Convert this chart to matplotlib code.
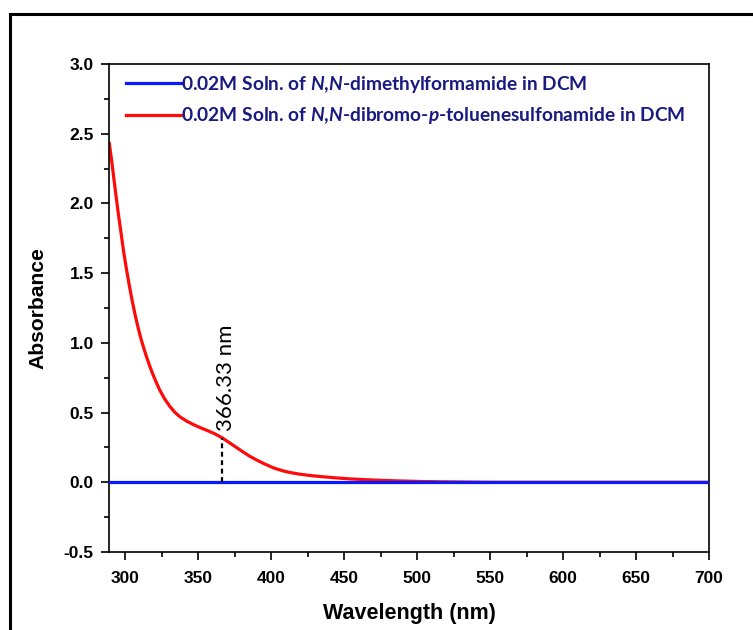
import matplotlib
matplotlib.use("Agg")
import matplotlib.pyplot as plt
from matplotlib.patches import Rectangle
from matplotlib.ticker import MultipleLocator, FormatStrFormatter

# data
wl_red = [289.2, 291, 293, 295, 297, 299, 301, 303, 305, 307, 309, 311, 313, 315, 317,
          319, 321, 323.8, 327, 330.6, 334, 337.5, 342, 346.6, 351, 355.7, 361, 366.33,
          371, 376, 380.5, 385.2, 391, 396.5, 402, 407.8, 413, 419.2, 425, 430, 441.7,
          453, 470, 487, 505, 521, 550, 600, 650, 700]
abs_red = [2.43, 2.29, 2.12, 1.955, 1.805, 1.655, 1.525, 1.405, 1.295, 1.195, 1.105,
           1.025, 0.955, 0.89, 0.83, 0.775, 0.725, 0.66, 0.60, 0.545, 0.503, 0.47, 0.44,
           0.415, 0.394, 0.374, 0.35, 0.32, 0.287, 0.252, 0.22, 0.188, 0.155, 0.127,
           0.102, 0.083, 0.070, 0.059, 0.051, 0.045, 0.034, 0.025, 0.016, 0.010, 0.005,
           0.003, 0.0, 0.0, 0.0, 0.0]
wl_blue = [289, 350, 400, 450, 500, 550, 600, 650, 700]
abs_blue = [0.0, 0.0, 0.0, 0.0, 0.0, 0.0, 0.0, 0.0, 0.0]

peak_wl = 366.33
peak_abs = 0.32

label_blue = r"0.02M Soln. of $\mathit{N{,}N}$-dimethylformamide in DCM"
label_red = r"0.02M Soln. of $\mathit{N{,}N}$-dibromo-$\mathit{p}$-toluenesulfonamide in DCM"

plt.rcParams["mathtext.fontset"] = "custom"
plt.rcParams["mathtext.it"] = "Lato:italic:bold"
plt.rcParams["mathtext.rm"] = "Lato:bold"

fig = plt.figure(figsize=(7.53, 6.3), dpi=100)
ax = fig.add_axes([0.1448, 0.1238, 0.7968, 0.7746])

# outer frame, partly cut off by the image edge
fig.patches.append(Rectangle((10 / 753, -0.05), 1.2, 1 - 14 / 630 + 0.05,
                             transform=fig.transFigure, fill=False,
                             edgecolor="black", linewidth=2.2, zorder=10))

ax.plot(wl_blue, abs_blue, color="#0a1aff", linewidth=2.3, label=label_blue, zorder=3)
ax.plot(wl_red, abs_red, color="#ff0a0a", linewidth=2.3, label=label_red, zorder=2)

ax.plot([peak_wl, peak_wl], [0, peak_abs], color="black", linestyle=(0, (2.2, 1.6)),
        linewidth=1.6, zorder=4)
ax.text(peak_wl + 2.5, 0.37, "366.33 nm", rotation=90, ha="center", va="bottom",
        fontsize=16, family="Lato", color="black")

ax.set_xlim(289, 700)
ax.set_ylim(-0.5, 3.0)
ax.xaxis.set_major_locator(MultipleLocator(50))
ax.xaxis.set_minor_locator(MultipleLocator(25))
ax.yaxis.set_major_locator(MultipleLocator(0.5))
ax.yaxis.set_minor_locator(MultipleLocator(0.25))
ax.yaxis.set_major_formatter(FormatStrFormatter("%.1f"))
ax.tick_params(which="major", direction="out", length=6, width=1.2, pad=5)
ax.tick_params(axis="x", which="major", pad=8)
ax.tick_params(which="minor", direction="out", length=3.5, width=1.2)
for sp in ax.spines.values():
    sp.set_linewidth(1.2)

for lab in ax.get_xticklabels() + ax.get_yticklabels():
    lab.set_fontfamily("Liberation Sans")
    lab.set_fontweight("bold")
    lab.set_fontsize(12.5)

ax.set_xlabel("Wavelength (nm)", fontsize=15.5, fontweight="bold", family="Liberation Sans", labelpad=12)
ax.set_ylabel("Absorbance", fontsize=15.2, fontweight="bold", family="Liberation Sans", labelpad=12)

leg = ax.legend(loc="upper left", bbox_to_anchor=(0.0, 1.015), frameon=False,
                handlelength=2.85, handletextpad=0.0, labelspacing=0.55,
                prop={"family": "Lato", "weight": "bold", "size": 13.8})
for t in leg.get_texts():
    t.set_color("#1a1a80")

fig.savefig("out.png", dpi=100)
